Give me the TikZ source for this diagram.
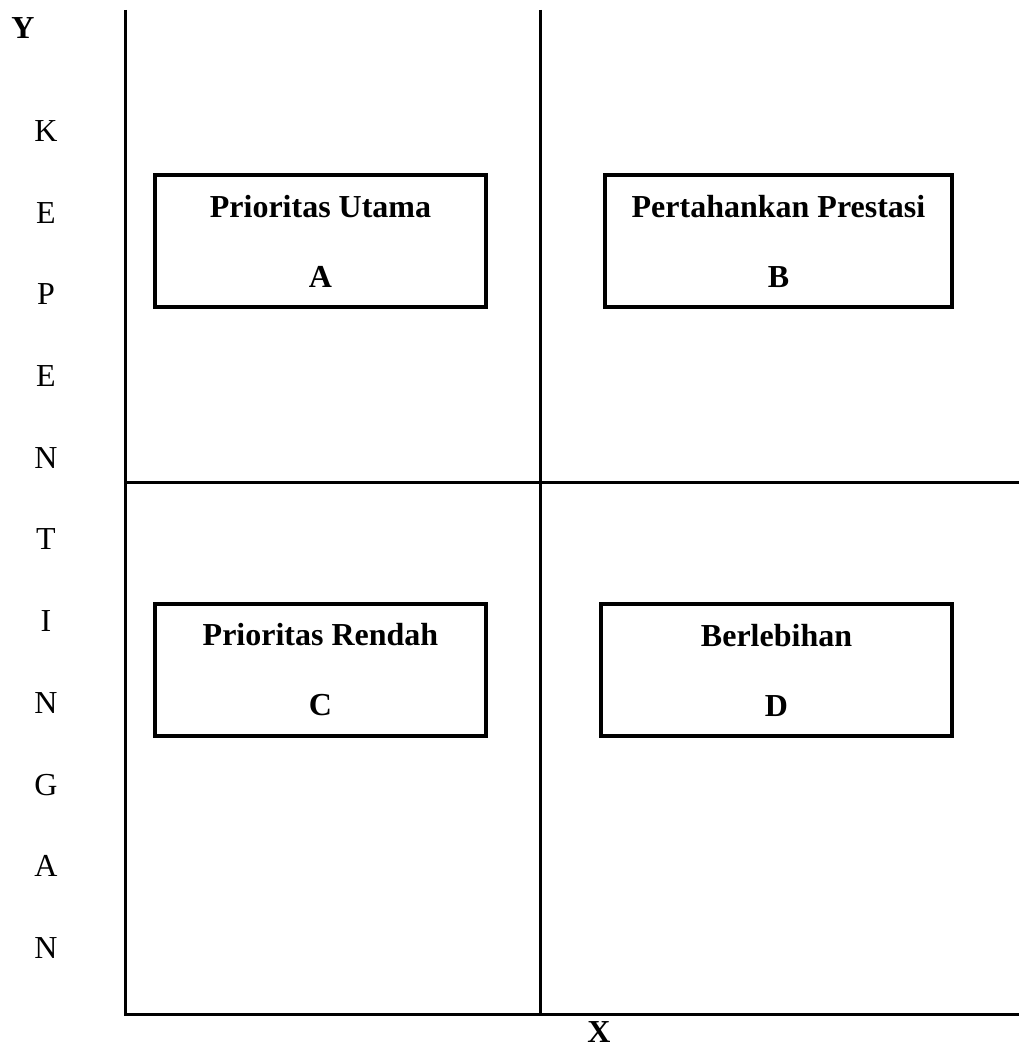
\documentclass[tikz,border=0pt]{standalone}
\usepackage{fontspec}
\setmainfont{Liberation Serif}
\usepackage{tikz}

\tikzset{
  quadbox/.style={draw, line width=3.5pt, minimum width=331pt, minimum height=132pt,
    align=center, inner sep=0pt, font=\bfseries\fontsize{32}{70}\selectfont},
  axisletter/.style={inner sep=0pt, font=\fontsize{32}{38}\selectfont},
  axislabel/.style={inner sep=0pt, font=\bfseries\fontsize{32}{38}\selectfont}
}

\begin{document}
\begin{tikzpicture}[x=1pt, y=-1pt]
  \useasboundingbox (0,0) rectangle (1019,1046);

  % axes and quadrant lines
  \draw[line width=3pt] (125,10) -- (125,1014) -- (1019,1014);
  \draw[line width=3pt] (540,10) -- (540,1014);
  \draw[line width=3pt] (125,482) -- (1019,482);

  % axis titles
  \node[axislabel] (ylab) at (23,28) {Y};
  \node[axislabel] (xlab) at (599,1032) {X};
  \foreach \ch [count=\i from 0] in {K,E,P,E,N,T,I,N,G,A,N} {
    \node[axisletter] (ltr\i) at (46,131+81.7*\i) {\ch};
  };

  % quadrants
  \node[quadbox] (qa) at (320.5,241) {Prioritas Utama\\A};
  \node[quadbox, minimum width=347pt] (qb) at (778.5,241) {Pertahankan Prestasi\\B};
  \node[quadbox] (qc) at (320.5,670) {Prioritas Rendah\\C};
  \node[quadbox, minimum width=351pt] (qd) at (776.5,670) {Berlebihan\\D};
\end{tikzpicture}
\end{document}
